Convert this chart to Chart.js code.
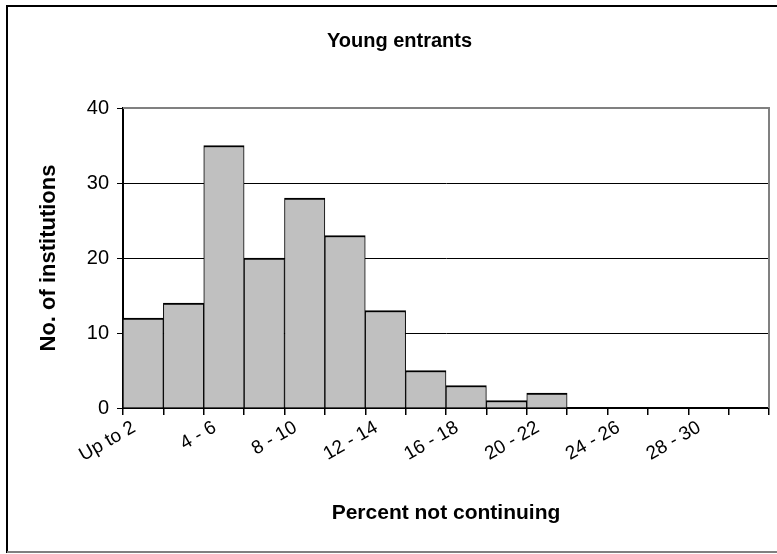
<!DOCTYPE html>
<html lang="en">
<head>
  <meta charset="UTF-8">
  <title>Young entrants</title>
  <script src="https://cdn.jsdelivr.net/npm/chart.js"></script>
  <style>
    body {
      margin: 0;
      padding: 0;
      background: #fff;
    }
    #wrap {
      width: 777px;
      height: 554px;
    }
  </style>
</head>
<body>

  <div id="wrap">
    <canvas id="histChart" width="777" height="554"></canvas>
  </div>

  <script>
    // Percent bands (every other one is labelled on the axis)
    const bands = ['Up to 2', '2 - 4', '4 - 6', '6 - 8', '8 - 10', '10 - 12', '12 - 14', '14 - 16',
                   '16 - 18', '18 - 20', '20 - 22', '22 - 24', '24 - 26', '26 - 28', '28 - 30', 'Over 30'];
    const institutions = [12, 14, 35, 20, 28, 23, 13, 5, 3, 1, 2, 0, 0, 0, 0, 0];
    const yTicks = [0, 10, 20, 30, 40];

    const font = 'Arial, "Liberation Sans", sans-serif';

    // outer frame + grey plot border, like the spreadsheet chart
    const framePlugin = {
      id: 'frame',
      afterDraw(chart) {
        const ctx = chart.ctx;
        const a = chart.chartArea;
        ctx.save();
        ctx.lineWidth = 2;
        ctx.strokeStyle = '#808080';
        ctx.beginPath();
        ctx.moveTo(a.left, a.top);
        ctx.lineTo(a.right, a.top);
        ctx.lineTo(a.right, a.bottom);
        ctx.stroke();

        ctx.strokeStyle = '#000';
        ctx.beginPath();
        ctx.moveTo(7, 553);
        ctx.lineTo(7, 6);
        ctx.lineTo(777, 6);
        ctx.stroke();
        ctx.strokeStyle = '#808080';
        ctx.beginPath();
        ctx.moveTo(7, 552);
        ctx.lineTo(777, 552);
        ctx.stroke();
        ctx.restore();
      }
    };

    const ctx = document.getElementById('histChart').getContext('2d');
    const chart = new Chart(ctx, {
      type: 'bar',
      data: {
        labels: bands,
        datasets: [{
          label: 'No. of institutions',
          data: institutions,
          backgroundColor: '#c0c0c0',
          borderColor: '#000',
          borderWidth: { top: 2, left: 1, right: 1, bottom: 0 },
          borderSkipped: false,
          barPercentage: 1,
          categoryPercentage: 1
        }]
      },
      options: {
        responsive: false,
        animation: false,
        layout: { padding: { left: 30, right: 8, top: 0, bottom: 0 } },
        plugins: {
          legend: { display: false },
          tooltip: { enabled: false },
          title: {
            display: true,
            text: 'Young entrants',
            color: '#000',
            font: { family: font, size: 20, weight: 'bold' },
            padding: { top: 29, bottom: 55 }
          }
        },
        scales: {
          x: {
            offset: true,
            grid: {
              offset: true,
              drawOnChartArea: false,
              drawTicks: true,
              tickLength: 7,
              color: '#000',
              lineWidth: 1.5
            },
            border: { color: '#000', width: 2 },
            ticks: {
              autoSkip: false,
              maxRotation: 30,
              minRotation: 30,
              padding: -4,
              color: '#000',
              font: { family: font, size: 19 },
              // trailing spaces push the rotated text a little left of the tick, as in the original
              callback: (val, i) => (i % 2 === 0 ? bands[i] + '  ' : '')
            },
            title: {
              display: true,
              text: 'Percent not continuing',
              color: '#000',
              font: { family: font, size: 21, weight: 'bold' },
              padding: { top: 0, bottom: 28 }
            },
            afterFit: (scale) => { scale.height = 146; }
          },
          y: {
            min: 0,
            max: 40,
            afterBuildTicks: (scale) => { scale.ticks = yTicks.map(v => ({ value: v })); },
            grid: {
              color: (c) => (c.tick && c.tick.value === 40 ? '#808080' : '#000'),
              tickColor: '#000',
              lineWidth: 1,
              tickLength: 6
            },
            border: { color: '#000', width: 2 },
            ticks: {
              padding: 8,
              color: '#000',
              font: { family: font, size: 20 }
            },
            title: {
              display: true,
              text: 'No. of institutions',
              color: '#000',
              font: { family: font, size: 22, weight: 'bold' },
              padding: { top: 6, bottom: 0 }
            },
            afterFit: (scale) => { scale.width = 93; }
          }
        }
      },
      plugins: [framePlugin]
    });
  </script>

</body>
</html>
